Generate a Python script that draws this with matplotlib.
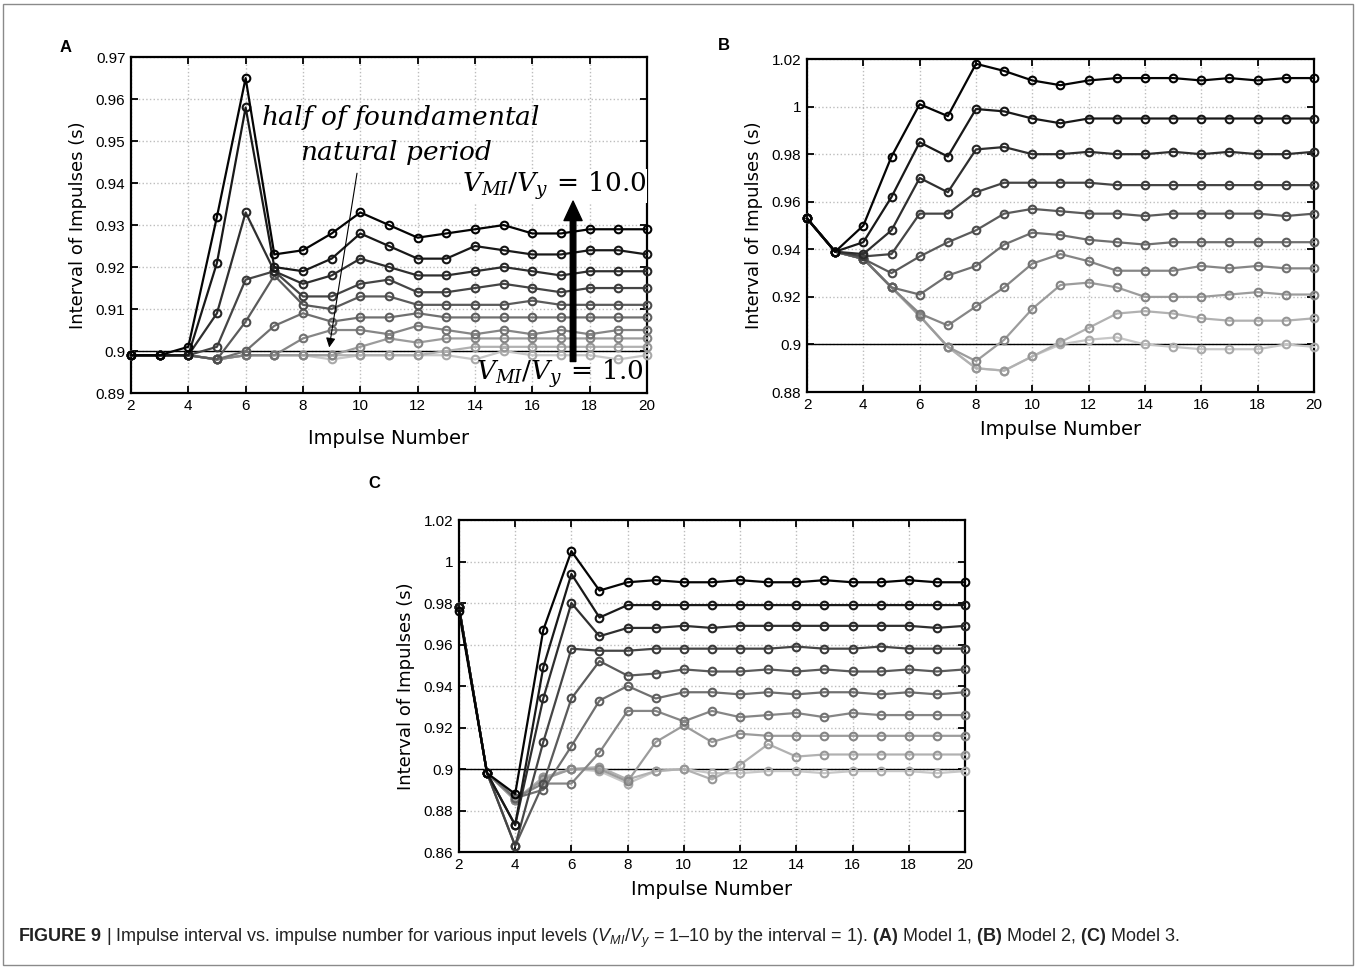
import matplotlib
matplotlib.use("Agg")
import matplotlib.pyplot as plt
from matplotlib.patches import Rectangle
from matplotlib.ticker import FuncFormatter

plt.rcParams['font.family'] = ['Liberation Sans', 'DejaVu Sans']
plt.rcParams['mathtext.fontset'] = 'custom'
plt.rcParams['mathtext.rm'] = 'Liberation Sans'
plt.rcParams['mathtext.it'] = 'Liberation Sans:italic'
plt.rcParams['mathtext.bf'] = 'Liberation Sans:bold'

impulse = list(range(2, 21))

# panel A (model 1), levels V_MI/V_y = 1 .. 10
a_level1 = [.899, .899, .899, .898, .899, .899, .899, .898, .899, .899, .899, .899, .898, .900, .899, .899, .899, .898, .899]
a_level2 = [.899, .899, .899, .898, .899, .899, .899, .899, .899, .899, .899, .900, .901, .901, .901, .901, .901, .901, .901]
a_level3 = [.899, .899, .899, .898, .899, .899, .899, .899, .901, .903, .902, .903, .903, .903, .903, .903, .903, .903, .903]
a_level4 = [.899, .899, .899, .898, .899, .899, .903, .905, .905, .904, .906, .905, .904, .905, .904, .905, .904, .905, .905]
a_level5 = [.899, .899, .899, .898, .900, .906, .909, .907, .908, .908, .909, .908, .908, .908, .908, .908, .908, .908, .908]
a_level6 = [.899, .899, .899, .898, .907, .918, .911, .910, .913, .913, .911, .911, .911, .911, .912, .911, .911, .911, .911]
a_level7 = [.899, .899, .899, .901, .917, .919, .913, .913, .916, .917, .914, .914, .915, .916, .915, .914, .915, .915, .915]
a_level8 = [.899, .899, .899, .909, .933, .919, .916, .918, .922, .920, .918, .918, .919, .920, .919, .918, .919, .919, .919]
a_level9 = [.899, .899, .899, .921, .958, .920, .919, .922, .928, .925, .922, .922, .925, .924, .923, .923, .924, .924, .923]
a_level10 = [.899, .899, .901, .932, .965, .923, .924, .928, .933, .930, .927, .928, .929, .930, .928, .928, .929, .929, .929]

# panel B (model 2)
b_level1 = [.953, .939, .936, .924, .912, .899, .890, .889, .895, .900, .902, .903, .900, .899, .898, .898, .898, .900, .899]
b_level2 = [.953, .939, .936, .924, .912, .899, .890, .889, .895, .901, .907, .913, .914, .913, .911, .910, .910, .910, .911]
b_level3 = [.953, .939, .936, .924, .912, .899, .893, .902, .915, .925, .926, .924, .920, .920, .920, .921, .922, .921, .921]
b_level4 = [.953, .939, .936, .924, .913, .908, .916, .924, .934, .938, .935, .931, .931, .931, .933, .932, .933, .932, .932]
b_level5 = [.953, .939, .936, .924, .921, .929, .933, .942, .947, .946, .944, .943, .942, .943, .943, .943, .943, .943, .943]
b_level6 = [.953, .939, .936, .930, .937, .943, .948, .955, .957, .956, .955, .955, .954, .955, .955, .955, .955, .954, .955]
b_level7 = [.953, .939, .937, .938, .955, .955, .964, .968, .968, .968, .968, .967, .967, .967, .967, .967, .967, .967, .967]
b_level8 = [.953, .939, .938, .948, .970, .964, .982, .983, .980, .980, .981, .980, .980, .981, .980, .981, .980, .980, .981]
b_level9 = [.953, .939, .943, .962, .985, .979, .999, .998, .995, .993, .995, .995, .995, .995, .995, .995, .995, .995, .995]
b_level10 = [.953, .939, .950, .979, 1.001, .996, 1.018, 1.015, 1.011, 1.009, 1.011, 1.012, 1.012, 1.012, 1.011, 1.012, 1.011, 1.012, 1.012]

# panel C (model 3)
c_level1 = [.978, .898, .885, .896, .900, .899, .893, .899, .900, .898, .898, .899, .899, .898, .899, .899, .899, .898, .899]
c_level2 = [.978, .898, .885, .896, .900, .901, .895, .899, .900, .895, .902, .912, .906, .907, .907, .907, .907, .907, .907]
c_level3 = [.978, .898, .885, .895, .900, .900, .894, .913, .921, .913, .917, .916, .916, .916, .916, .916, .916, .916, .916]
c_level4 = [.978, .898, .886, .893, .893, .908, .928, .928, .923, .928, .925, .926, .927, .925, .927, .926, .926, .926, .926]
c_level5 = [.978, .898, .886, .890, .911, .933, .940, .934, .937, .937, .936, .937, .936, .937, .937, .936, .937, .936, .937]
c_level6 = [.978, .898, .863, .893, .934, .952, .945, .946, .948, .947, .947, .948, .947, .948, .947, .947, .948, .947, .948]
c_level7 = [.978, .898, .863, .913, .958, .957, .957, .958, .958, .958, .958, .958, .959, .958, .958, .959, .958, .958, .958]
c_level8 = [.978, .898, .873, .934, .980, .964, .968, .968, .969, .968, .969, .969, .969, .969, .969, .969, .969, .968, .969]
c_level9 = [.978, .898, .873, .949, .994, .973, .979, .979, .979, .979, .979, .979, .979, .979, .979, .979, .979, .979, .979]
c_level10 = [.976, .898, .888, .967, 1.005, .986, .990, .991, .990, .990, .991, .990, .990, .991, .990, .990, .991, .990, .990]

panel_a = [a_level1, a_level2, a_level3, a_level4, a_level5, a_level6, a_level7, a_level8, a_level9, a_level10]
panel_b = [b_level1, b_level2, b_level3, b_level4, b_level5, b_level6, b_level7, b_level8, b_level9, b_level10]
panel_c = [c_level1, c_level2, c_level3, c_level4, c_level5, c_level6, c_level7, c_level8, c_level9, c_level10]

a_yticks = [0.89, 0.90, 0.91, 0.92, 0.93, 0.94, 0.95, 0.96, 0.97]
b_yticks = [0.88, 0.90, 0.92, 0.94, 0.96, 0.98, 1.00, 1.02]
c_yticks = [0.86, 0.88, 0.90, 0.92, 0.94, 0.96, 0.98, 1.00, 1.02]
x_ticks = list(range(2, 21, 2))


def fmt(v, pos):
    return ('%.2f' % v).rstrip('0').rstrip('.')


def draw_panel(ax, series, yticks):
    for i, ys in enumerate(series):
        g = 0.78 - i * 0.085
        ax.plot(impulse, ys, color=(g, g, g), lw=1.6, marker='o', ms=5.5,
                mfc='none', mec=(g * 0.85, g * 0.85, g * 0.85), mew=1.5, clip_on=False, zorder=3)
    ax.axhline(0.9, color='black', lw=1.0, zorder=2)
    ax.set_xlim(2, 20)
    ax.set_ylim(yticks[0], yticks[-1])
    ax.set_xticks(x_ticks)
    ax.set_yticks(yticks)
    ax.yaxis.set_major_formatter(FuncFormatter(fmt))
    ax.grid(True, ls=':', color='#bdbdbd', lw=1.0)
    ax.set_axisbelow(True)
    ax.tick_params(direction='in', top=True, right=True, length=5, width=1.3, labelsize=11, pad=4)
    for s in ax.spines.values():
        s.set_linewidth(1.6)
    ax.set_xlabel('Impulse Number', fontsize=14, family=['DejaVu Sans'], labelpad=6)
    ax.set_ylabel('Interval of Impulses (s)', fontsize=13, family=['DejaVu Sans'], labelpad=6)


fig = plt.figure(figsize=(13.57, 9.68), dpi=100)
ax_a = fig.add_axes([0.0965, 0.594, 0.3803, 0.347])
ax_b = fig.add_axes([0.5947, 0.595, 0.3736, 0.344])
ax_c = fig.add_axes([0.3382, 0.1198, 0.3729, 0.343])

draw_panel(ax_a, panel_a, a_yticks)
draw_panel(ax_b, panel_b, b_yticks)
draw_panel(ax_c, panel_c, c_yticks)
ax_a.xaxis.labelpad = 12

# annotations on panel A
ax_a.text(11.4, 0.9555, r'$half\ of\ foundamental$', fontsize=19, ha='center', va='center',
          math_fontfamily='dejavuserif')
ax_a.text(11.25, 0.9473, r'$natural\ period$', fontsize=19, ha='center', va='center',
          math_fontfamily='dejavuserif')
ax_a.annotate('', xy=(8.9, 0.9002), xytext=(9.9, 0.943),
              arrowprops=dict(arrowstyle='-|>', lw=0.8, color='black', mutation_scale=14))
ax_a.text(16.75, 0.9393, r'$V_{MI}/V_y\,=\,10.0$', fontsize=19, ha='center', va='center',
          math_fontfamily='dejavuserif', bbox=dict(fc='white', ec='none', pad=0.5))
ax_a.text(16.95, 0.8945, r'$V_{MI}/V_y\,=\,1.0$', fontsize=19, ha='center', va='center',
          math_fontfamily='dejavuserif')
ax_a.annotate('', xy=(17.42, 0.9357), xytext=(17.42, 0.8975),
              arrowprops=dict(width=4, headwidth=13, headlength=14, color='black', shrink=0))

# panel letters
fig.text(60 / 1357, 1 - 47 / 968, 'A', fontsize=12, weight='bold', va='center')
fig.text(718 / 1357, 1 - 45 / 968, 'B', fontsize=12, weight='bold', va='center')
fig.text(368 / 1357, 1 - 483 / 968, 'C', fontsize=12, weight='bold', va='center')

fig.text(18 / 1357, 1 - 938 / 968,
         r'$\bf{FIGURE\ 9}$ | Impulse interval vs. impulse number for various input levels ($V_{MI}/V_y$ = 1–10 by the interval = 1). '
         r'$\bf{(A)}$ Model 1, $\bf{(B)}$ Model 2, $\bf{(C)}$ Model 3.',
         fontsize=13, va='center', color='#222222')

fig.add_artist(Rectangle((3 / 1357, 3 / 968), 1 - 7 / 1357, 1 - 7 / 968, transform=fig.transFigure,
                         fill=False, ec='#8a8a8a', lw=1.0))

fig.savefig('out.png', dpi=100)
